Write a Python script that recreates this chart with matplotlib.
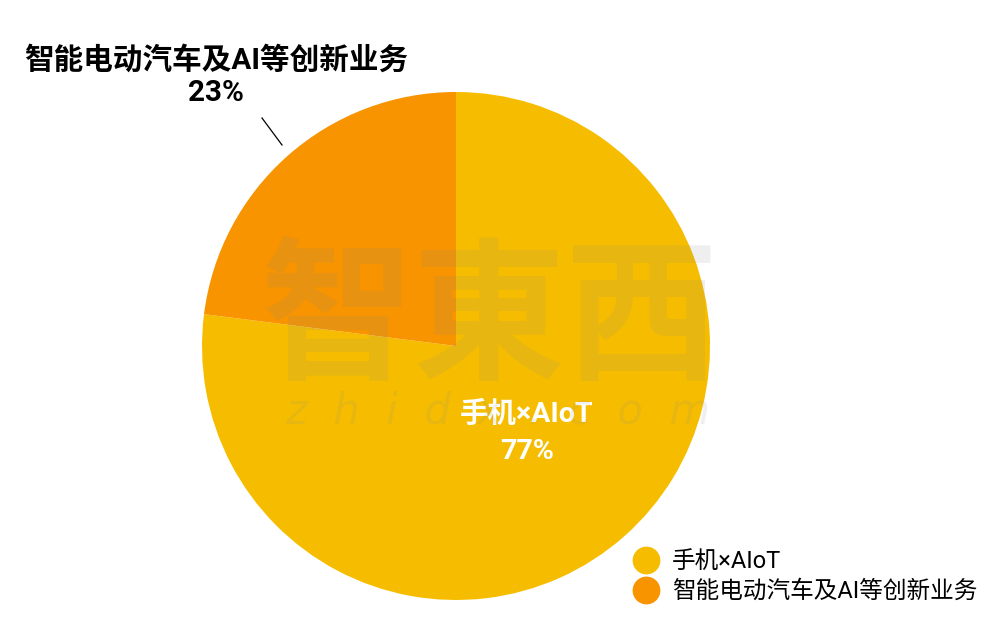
import matplotlib
matplotlib.use("Agg")
import matplotlib.pyplot as plt
from matplotlib.lines import Line2D

plt.rcParams['font.family'] = ['Roboto', 'Noto Sans CJK SC', 'DejaVu Sans']

categories = ['手机×AIoT', '智能电动汽车及AI等创新业务']
values = [77, 23]
colors = ['#F6BD00', '#F79400']

fig = plt.figure(figsize=(10, 6.22), dpi=100)
ax = fig.add_axes([0, 0, 1, 1])

wedges, _ = ax.pie(values, colors=colors, startangle=90, counterclock=False,
                   center=(456, 276), radius=254, frame=True)
ax.set_xlim(0, 1000)
ax.set_ylim(0, 622)
ax.set_aspect('equal')
ax.axis('off')

# inside label for big slice
ax.text(527, 189, f'{categories[0]}\n{values[0]}%', color='white', fontsize=20.5,
        fontweight='bold', ha='center', va='center', linespacing=1.5)

# outside label for small slice
ax.text(216, 546, f'{categories[1]}\n{values[1]}%', color='black', fontsize=21.3,
        fontweight='bold', ha='center', va='center', linespacing=1.2)
ax.plot([262, 282], [504, 477], color='black', lw=0.9)

# watermark
ax.text(490, 300, '智東西', fontsize=110, fontweight='bold', color='#888888',
        alpha=0.13, ha='center', va='center', family=['Noto Sans CJK TC'])
ax.text(498, 210, 'z  h  i  d  x  .  c  o  m', fontsize=30, style='italic',
        color='#888888', alpha=0.13, ha='center', va='center',
        family=['DejaVu Sans'])

handles = [Line2D([0], [0], marker='o', color='none', markerfacecolor=c,
                  markeredgecolor='none', markersize=20) for c in colors]
leg = ax.legend(handles, categories, loc='lower left', bbox_to_anchor=(0.615, 0.0),
                frameon=False, fontsize=17, handlelength=1.0, handletextpad=0.6,
                labelspacing=0.3, borderaxespad=0.4)

fig.savefig('out.png', dpi=100)
